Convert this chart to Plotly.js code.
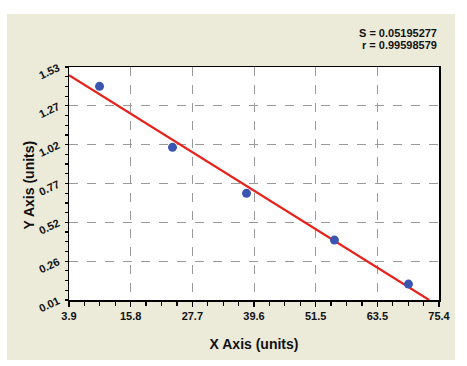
<!DOCTYPE html>
<html>
<head>
<meta charset="utf-8">
<script src="https://cdn.plot.ly/plotly-3.0.1.min.js"></script>
<style>
  html, body { margin: 0; padding: 0; background: #ffffff; width: 467px; height: 366px; overflow: hidden; }
  #chart { position: absolute; left: 7px; top: 14px; width: 448px; height: 346px; }
</style>
</head>
<body>
<div id="chart"></div>
<script>
// Data
const pointX = [9.8, 23.9, 38.2, 55.2, 69.5];
const pointY = [1.404, 1.006, 0.706, 0.401, 0.114];
const fitX = [3.9, 73.5];
const fitY = [1.476, 0.01];
const xTickText = ["3.9", "15.8", "27.7", "39.6", "51.5", "63.5", "75.4"];
const yTickText = ["0.01", "0.26", "0.52", "0.77", "1.02", "1.27", "1.53"];
const statS = "S = 0.05195277";
const statR = "r = 0.99598579";
const xTitle = "X Axis (units)";
const yTitle = "Y Axis (units)";

const xMin = 3.9, xMax = 75.4, yMin = 0.01, yMax = 1.53;
const nInt = 6;
const xTickVals = xTickText.map((_, i) => xMin + (xMax - xMin) * i / nInt);
const yTickVals = yTickText.map((_, i) => yMin + (yMax - yMin) * i / nInt);
const xMinor = [], yMinor = [];
for (let i = 0; i < nInt; i++) {
  for (let j = 1; j < 4; j++) {
    xMinor.push(xMin + (xMax - xMin) * (i + j / 4) / nInt);
    yMinor.push(yMin + (yMax - yMin) * (i + j / 4) / nInt);
  }
}

const fam = "Liberation Sans, Arial, sans-serif";
const bold = s => "<b>" + s + "</b>";

const traces = [
  {
    x: fitX, y: fitY, mode: "lines", type: "scatter",
    line: { color: "#e8211b", width: 2.2 }, hoverinfo: "skip"
  },
  {
    x: pointX, y: pointY, mode: "markers", type: "scatter",
    marker: { color: "#3a56b0", size: 9, line: { width: 0 } }
  }
];

const layout = {
  width: 448, height: 346,
  paper_bgcolor: "#ecead9",
  plot_bgcolor: "#ffffff",
  showlegend: false,
  margin: { l: 62, r: 16, t: 53, b: 60, pad: 0 },
  font: { family: fam, color: "#111111" },
  xaxis: {
    range: [xMin, xMax],
    tickmode: "array", tickvals: xTickVals, ticktext: xTickText.map(bold),
    ticks: "outside", ticklen: 5, tickwidth: 1.3, tickcolor: "#000",
    minor: { tickmode: "array", tickvals: xMinor, ticks: "outside", ticklen: 4, tickwidth: 1.2, tickcolor: "#000", showgrid: false },
    showline: true, linecolor: "#000", linewidth: 1.5, mirror: true,
    showgrid: true, gridcolor: "#9a9a9a", griddash: "dash", gridwidth: 1,
    zeroline: false,
    tickfont: { family: fam, size: 11, color: "#111" },
    title: { text: bold(xTitle), font: { family: fam, size: 14, color: "#111" }, standoff: 18 }
  },
  yaxis: {
    range: [yMin, yMax],
    tickmode: "array", tickvals: yTickVals, ticktext: yTickText.map(bold),
    tickangle: -25,
    ticklabelstandoff: 4,
    ticks: "outside", ticklen: 3, tickwidth: 1.3, tickcolor: "#000",
    minor: { tickmode: "array", tickvals: yMinor, ticks: "outside", ticklen: 3, tickwidth: 1.2, tickcolor: "#000", showgrid: false },
    showline: true, linecolor: "#000", linewidth: 1.5, mirror: true,
    showgrid: true, gridcolor: "#9a9a9a", griddash: "dash", gridwidth: 1,
    zeroline: false,
    tickfont: { family: fam, size: 11, color: "#111" }
  },
  annotations: [
    { xref: "paper", yref: "paper", x: 1, y: 1, yshift: 34, xanchor: "right", yanchor: "middle",
      text: bold(statS), showarrow: false, font: { family: fam, size: 11, color: "#111" } },
    { xref: "paper", yref: "paper", x: 1, y: 1, yshift: 22, xanchor: "right", yanchor: "middle",
      text: bold(statR), showarrow: false, font: { family: fam, size: 11, color: "#111" } },
    { xref: "paper", yref: "paper", x: 0, y: 0.5, xshift: -41, yshift: -2, xanchor: "center", yanchor: "middle",
      textangle: -90, text: bold(yTitle), showarrow: false, font: { family: fam, size: 14, color: "#111" } }
  ]
};

Plotly.newPlot("chart", traces, layout, { displayModeBar: false, staticPlot: true });
</script>
</body>
</html>
